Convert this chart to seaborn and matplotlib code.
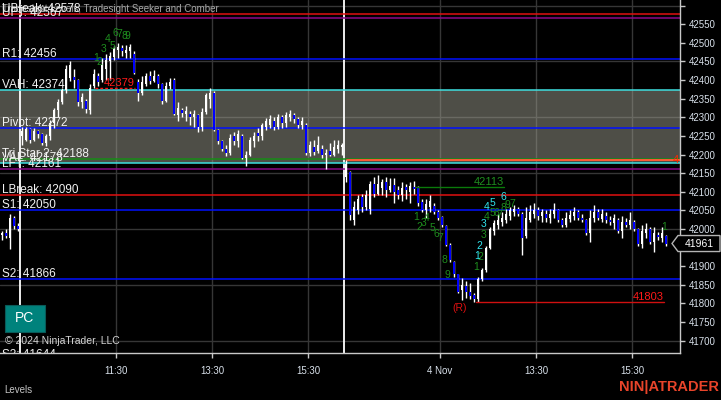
import matplotlib
matplotlib.use("Agg")
import matplotlib.pyplot as plt
import matplotlib.transforms as mtransforms
from matplotlib.patches import Polygon, Rectangle
import seaborn as sns
import numpy as np
import pandas as pd

# 5-min bars: tail of the previous session, then Nov 1 and Nov 4 (09:30-16:15)
n_pre = 5
session_len = 81

pre_open = [41985, 41990, 41975, 42030, 42008]
pre_high = [41995, 42000, 42040, 42035, 42015]
pre_low = [41970, 41975, 41945, 42000, 41995]
pre_close = [41990, 41980, 42030, 42008, 42000]

s1_open = [42250, 42240, 42268, 42240, 42262, 42255, 42232, 42250, 42285, 42320,
           42340, 42372, 42405, 42408, 42400, 42340, 42345, 42320, 42385, 42410,
           42400, 42430, 42450, 42462, 42480, 42485, 42472, 42478, 42470, 42395,
           42365, 42390, 42410, 42398, 42410, 42390, 42345, 42385, 42400, 42305,
           42320, 42310, 42310, 42300, 42305, 42275, 42315, 42350, 42365, 42265,
           42235, 42215, 42205, 42250, 42235, 42250, 42190, 42200, 42235, 42258,
           42250, 42275, 42280, 42290, 42275, 42300, 42285, 42300, 42305, 42295,
           42280, 42280, 42205, 42220, 42210, 42215, 42200, 42210, 42200, 42215, 42220]
s1_high = [42275, 42275, 42272, 42270, 42265, 42258, 42255, 42292, 42325, 42350,
           42380, 42440, 42452, 42430, 42402, 42365, 42350, 42390, 42430, 42420,
           42460, 42470, 42475, 42492, 42500, 42495, 42495, 42496, 42478, 42402,
           42410, 42420, 42425, 42428, 42415, 42392, 42395, 42405, 42405, 42340,
           42325, 42330, 42318, 42320, 42310, 42325, 42365, 42378, 42370, 42268,
           42240, 42225, 42255, 42260, 42265, 42255, 42210, 42248, 42260, 42270,
           42285, 42298, 42305, 42300, 42310, 42305, 42315, 42320, 42312, 42300,
           42300, 42285, 42235, 42240, 42250, 42225, 42215, 42230, 42240, 42240, 42230]
s1_low = [42225, 42235, 42232, 42235, 42245, 42225, 42222, 42240, 42270, 42300,
          42335, 42365, 42398, 42380, 42330, 42325, 42312, 42310, 42380, 42385,
          42395, 42400, 42400, 42455, 42460, 42465, 42458, 42460, 42415, 42345,
          42360, 42385, 42390, 42395, 42380, 42335, 42340, 42375, 42305, 42290,
          42300, 42290, 42280, 42275, 42260, 42262, 42310, 42325, 42262, 42228,
          42210, 42195, 42200, 42225, 42220, 42188, 42170, 42195, 42220, 42235,
          42240, 42265, 42270, 42265, 42268, 42270, 42275, 42290, 42285, 42270,
          42268, 42200, 42195, 42200, 42205, 42190, 42160, 42195, 42195, 42205, 42200]
s1_close = [42262, 42268, 42240, 42262, 42255, 42232, 42250, 42285, 42320, 42340,
            42372, 42430, 42440, 42400, 42340, 42355, 42322, 42380, 42415, 42395,
            42440, 42455, 42465, 42485, 42490, 42478, 42482, 42490, 42420, 42365,
            42395, 42410, 42398, 42412, 42390, 42345, 42385, 42395, 42310, 42325,
            42312, 42318, 42300, 42310, 42275, 42315, 42360, 42365, 42265, 42235,
            42215, 42205, 42245, 42235, 42255, 42192, 42200, 42240, 42250, 42250,
            42280, 42290, 42295, 42275, 42300, 42285, 42305, 42308, 42295, 42280,
            42290, 42205, 42225, 42208, 42225, 42200, 42205, 42200, 42220, 42225, 42225]

s2_open = [42140, 42153, 42025, 42050, 42085, 42060, 42055, 42120, 42095, 42110,
           42125, 42105, 42118, 42105, 42090, 42112, 42100, 42112, 42113, 42072,
           42050, 42060, 42062, 42045, 42032, 42008, 41958, 41912, 41878, 41835,
           41848, 41830, 41822, 41812, 41865, 41890, 41948, 41995, 42010, 42020,
           42025, 42035, 42045, 42055, 42040, 41980, 42025, 42040, 42050, 42035,
           42040, 42030, 42040, 42050, 42025, 42012, 42028, 42035, 42045, 42030,
           42025, 41990, 42030, 42045, 42028, 42035, 42025, 42015, 42025, 41995,
           42020, 42010, 42020, 42000, 41960, 41990, 42000, 41965, 41985, 41975, 41980]
s2_high = [42185, 42155, 42075, 42090, 42095, 42105, 42130, 42140, 42145, 42135,
           42140, 42138, 42138, 42115, 42125, 42120, 42125, 42130, 42116, 42080,
           42080, 42090, 42070, 42050, 42036, 42010, 41962, 41915, 41880, 41868,
           41860, 41855, 41828, 41870, 41895, 41955, 42005, 42025, 42040, 42045,
           42055, 42060, 42065, 42060, 42045, 42060, 42065, 42070, 42060, 42055,
           42050, 42055, 42070, 42055, 42030, 42045, 42050, 42060, 42052, 42040,
           42028, 42050, 42065, 42055, 42055, 42045, 42035, 42040, 42030, 42035,
           42030, 42045, 42025, 42002, 42010, 42015, 42005, 42005, 41992, 42005, 41985]
s2_low = [42125, 42024, 42010, 42040, 42045, 42050, 42040, 42085, 42090, 42090,
          42085, 42100, 42070, 42080, 42075, 42080, 42070, 42095, 42062, 42045,
          42030, 42045, 42040, 42025, 42005, 41955, 41912, 41872, 41828, 41808,
          41815, 41812, 41803, 41805, 41860, 41885, 41945, 41985, 42000, 42008,
          42015, 42025, 42035, 42035, 41930, 41975, 42020, 42030, 42025, 42020,
          42020, 42015, 42030, 42020, 42005, 42005, 42020, 42025, 42025, 42020,
          41985, 41965, 42020, 42025, 42020, 42015, 42010, 42000, 41990, 41975,
          42005, 42000, 41995, 41955, 41950, 41975, 41960, 41938, 41970, 41965, 41955]
s2_close = [42175, 42038, 42060, 42080, 42060, 42090, 42120, 42095, 42120, 42125,
            42105, 42115, 42100, 42090, 42110, 42105, 42115, 42108, 42070, 42052,
            42068, 42075, 42045, 42030, 42010, 41958, 41918, 41878, 41832, 41850,
            41830, 41820, 41812, 41865, 41890, 41950, 42000, 42015, 42025, 42030,
            42040, 42050, 42055, 42040, 41975, 42030, 42045, 42050, 42035, 42045,
            42030, 42040, 42050, 42025, 42010, 42030, 42038, 42045, 42030, 42025,
            41990, 42030, 42045, 42030, 42040, 42025, 42020, 42030, 41995, 42020,
            42012, 42025, 42000, 41960, 41995, 42000, 41965, 41990, 41978, 41990, 41961]

# Tradesight levels
level_names = ['UFT', 'UBreak', 'R1', 'VAH', 'Pivot', 'VAL', 'LFT', 'Tri Star 2', 'LBreak', 'S1', 'S2']
level_values = [42567, 42578, 42456, 42374, 42272, 42178, 42161, 42188, 42090, 42050, 41866]
level_colors = {'UFT': '#8a0a8a', 'UBreak': '#e01010', 'R1': '#0010ff', 'VAH': '#3ee0e0',
                'Pivot': '#0010ff', 'VAL': '#3ee0e0', 'LFT': '#8a0a8a', 'Tri Star 2': '#168c16',
                'LBreak': '#e01010', 'S1': '#0010ff', 'S2': '#0010ff'}
s3_label = 'S3: 41644'
prior_level = 42185

# seeker / comber markers
seeker_high = 42113
seeker_low = 41803
combo_high = 42379

count1_text = ['1', '2', '3', '4', '5', '6', '7', '8', '9']
count1_bar = [18.5, 19.25, 20.5, 21.5, 22.5, 23.25, 24.25, 25.5, 26.25]
count1_price = [42459, 42448, 42483, 42510, 42491, 42526, 42524, 42518, 42518]

count2_text = ['1', '2', '3', '4', '5', '6', '7', '8', '9']
count2_bar = [98.5, 99.25, 100.5, 101.25, 102.5, 103.5, 104.5, 105.5, 106.25]
count2_price = [42032, 42005, 42016, 42029, 42002, 41986, 41976, 41917, 41876]

count3_text = ['1', '2', '3', '4', '5', '6', '7', '8', '9', '7', '1']
count3_bar = [113.5, 114.5, 115.5, 116.25, 117.5, 118.5, 119.25, 120.25, 121.25, 122.5, 160.5]
count3_price = [41898, 41925, 41984, 42032, 42043, 42043, 42037, 42056, 42064, 42067, 42005]

count4_text = ['1', '2', '3', '4', '5', '6']
count4_bar = [113.75, 114.25, 115.5, 116.25, 117.5, 120.25]
count4_price = [41927, 41954, 42013, 42059, 42070, 42086]

tick_labels = ['11:30', '13:30', '15:30', '4 Nov', '13:30', '15:30']
tick_offsets = [24, 48, 72, 24, 48, 72]
tick_session = [0, 0, 0, 1, 1, 1]

bars = pd.DataFrame({
    'open': pre_open + s1_open + s2_open,
    'high': pre_high + s1_high + s2_high,
    'low': pre_low + s1_low + s2_low,
    'close': pre_close + s1_close + s2_close,
})
bars['x'] = np.arange(len(bars)) - n_pre
bars['up'] = bars['close'] >= bars['open']

sns.set_theme(style='dark', rc={'axes.facecolor': 'black', 'figure.facecolor': 'black',
                                'savefig.facecolor': 'black', 'axes.grid': False})
plt.rcParams['font.family'] = ['Liberation Sans', 'DejaVu Sans']

W, H = 721, 400
fig = plt.figure(figsize=(W / 100, H / 100), dpi=100)
ax = fig.add_axes([0, 47 / H, 680 / W, 353 / H])
ax.set_facecolor('black')
ax.set_xlim(-5.5, 164.5)
ax.set_ylim(41667, 42615)

grid_c = '#363636'
tick_x = [s * session_len + o - 0.5 for s, o in zip(tick_session, tick_offsets)]
for gy in np.arange(41700, 42601, 150):
    ax.axhline(gy, color=grid_c, lw=1, zorder=1)
for gx in tick_x:
    ax.axvline(gx, color=grid_c, lw=1, zorder=1)

# value area
ax.axhspan(level_values[level_names.index('VAL')], level_values[level_names.index('VAH')],
           color='#9c9c8e', alpha=0.5, lw=0, zorder=1.5)

# session breaks
for s in [0, session_len]:
    ax.axvline(s - 0.6, color='white', lw=1.3, zorder=2)

for name, val in zip(level_names, level_values):
    ax.axhline(val, color=level_colors[name], lw=1.1, zorder=2.5)
ax.plot([session_len + 0.25, 164.5], [prior_level, prior_level], color='#ff5a36', lw=1.4, zorder=2.6)

# candles
ax.vlines(bars['x'], bars['low'], bars['high'], color='white', lw=1, zorder=3)
body = (bars['close'] - bars['open']).abs().clip(lower=2)
ax.bar(bars['x'], body, bottom=bars[['open', 'close']].min(axis=1), width=0.6,
       color=np.where(bars['up'], 'white', '#0000ff'), lw=0, zorder=4)

# level labels
trans = ax.get_yaxis_transform()
lift = mtransforms.offset_copy(trans, fig=fig, x=2, y=2, units='dots')
ax.text(0, 42615 - 14 * 2.6865, 'Tradesight Levels, Tradesight Seeker and Comber', transform=lift,
        color='#a8a8a8', fontsize=7, va='baseline', zorder=5)
for name, val in zip(level_names, level_values):
    ax.text(0, val, f'{name}: {val}', transform=lift, color='#f2f2f2', fontsize=8.5,
            va='baseline', zorder=6)
ax.text(0, 41648, s3_label, transform=lift, color='#f2f2f2', fontsize=8.5, va='baseline',
        zorder=6, clip_on=True)

# seeker / comber
ax.plot([18.25, 28.25], [combo_high, combo_high], color='#ff1010', lw=1, ls=(0, (2, 1.5)), zorder=5)
ax.text(28.25, combo_high, str(combo_high), color='#ff1a1a', fontsize=8, ha='right', va='bottom', zorder=6)
ax.plot([98.5, 120.5], [seeker_high, seeker_high], color='#0a7a0a', lw=1, zorder=5)
ax.text(120.5, seeker_high, str(seeker_high), color='#1f8f1f', fontsize=8, ha='right', va='bottom', zorder=6)
ax.plot([113.5, 160.5], [seeker_low, seeker_low], color='#d01010', lw=1, zorder=5)
ax.text(160.5, seeker_low, str(seeker_low), color='#ff1a1a', fontsize=8, ha='right', va='bottom', zorder=6)
ax.text(109.5, seeker_low - 2, '(R)', color='#e01010', fontsize=7.5, ha='center', va='top', zorder=6)
ax.text(0.999, prior_level, '4', transform=ax.get_yaxis_transform(), color='#ff2a00',
        fontsize=8, ha='right', va='center', zorder=6)

for texts, xs, ys, col in [(count1_text, count1_bar, count1_price, '#1e8c1e'),
                           (count2_text, count2_bar, count2_price, '#1e8c1e'),
                           (count3_text, count3_bar, count3_price, '#1e8c1e'),
                           (count4_text, count4_bar, count4_price, '#30e4ee')]:
    for t, xv, yv in zip(texts, xs, ys):
        ax.text(xv, yv, t, color=col, fontsize=7.5, ha='center', va='center', zorder=7)

# axes
for sp in ['top', 'left']:
    ax.spines[sp].set_visible(False)
for sp in ['bottom', 'right']:
    ax.spines[sp].set_color('#c8c8c8')
    ax.spines[sp].set_linewidth(1)
ax.yaxis.tick_right()
yt = np.arange(41700, 42601, 50)
ax.set_yticks(yt)
ax.set_yticklabels([str(v) if v < 42600 else '' for v in yt])
ax.set_xticks(tick_x)
ax.set_xticklabels(tick_labels)
ax.tick_params(axis='y', right=True, left=False, length=3.6, width=1, color='#c8c8c8',
               labelcolor='#d8e0ea', labelsize=7, pad=2.5)
ax.tick_params(axis='x', bottom=True, length=3.6, width=1, color='#c8c8c8',
               labelcolor='#d8e0ea', labelsize=7, pad=5.5)

# last price marker
x1 = ax.bbox.x1
yp = ax.transData.transform((0, bars['close'].iloc[-1]))[1]
fig.add_artist(Polygon([(x1 - 8, yp), (x1 - 2, yp + 8), (W - 1, yp + 8), (W - 1, yp - 8), (x1 - 2, yp - 8)],
                       closed=True, transform=None, facecolor='black', edgecolor='#b4b4b4', lw=1, zorder=10))
fig.text((x1 - 2 + W) / 2 / W, yp / H, str(bars['close'].iloc[-1]), color='white', fontsize=7.5,
         ha='center', va='center', zorder=11)

# PC badge and footer text
fig.add_artist(Rectangle((5 / W, 1 - 332 / H), 40 / W, 27 / H, transform=fig.transFigure,
                         facecolor='#00827c', edgecolor='#0a5a58', lw=0.8, zorder=10))
fig.text(25 / W, 1 - 318.5 / H, 'PC', color='white', fontsize=10, ha='center', va='center', zorder=11)
fig.text(5 / W, 1 - 341 / H, '\u00a9 2024 NinjaTrader, LLC', color='#d4d4d4', fontsize=7.5,
         ha='left', va='center', zorder=11)
fig.text(4 / W, 1 - 390 / H, 'Levels', color='#c4c4c4', fontsize=7, ha='left', va='center')
fig.text(719 / W, 1 - 387 / H, 'NIN|ATRADER', color='#e8442a', fontsize=10.5, fontweight='bold',
         ha='right', va='center')

fig.savefig('out.png', dpi=100, facecolor='black')
